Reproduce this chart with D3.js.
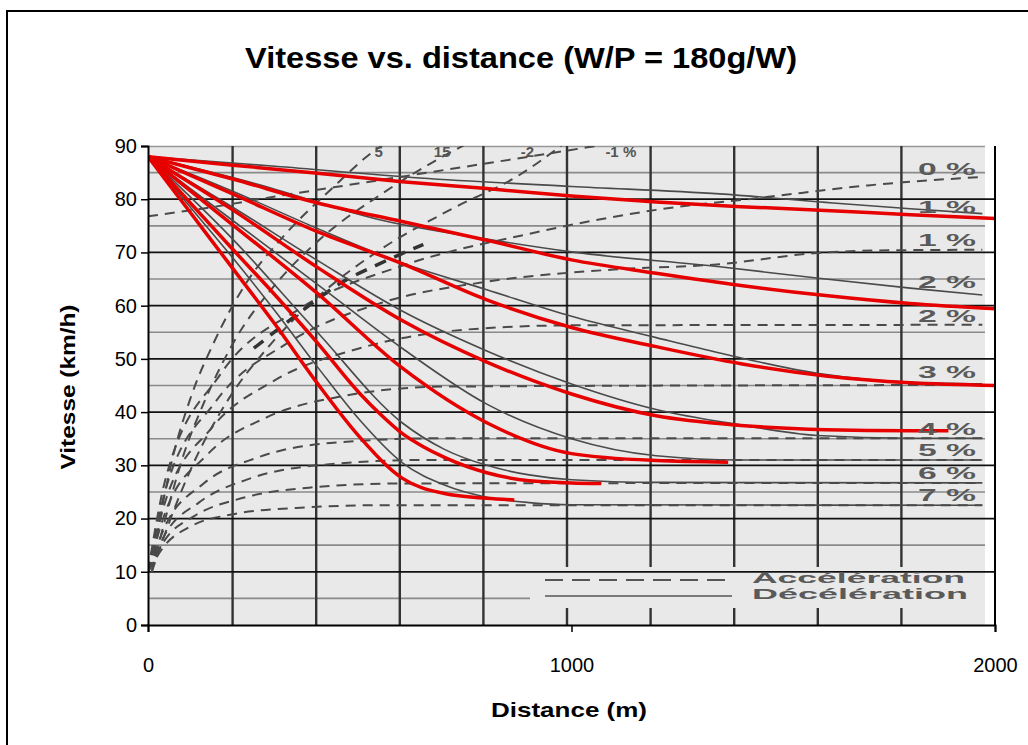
<!DOCTYPE html>
<html><head><meta charset="utf-8">
<script src="https://cdn.jsdelivr.net/npm/d3@7"></script>
<style>body{margin:0;background:#fff}svg{display:block}</style>
</head><body>
<svg id="c" width="1028" height="745"></svg>
<script>
// ---------- data ----------
const yTicks = [0,10,20,30,40,50,60,70,80,90];
const xTicks = [0,1000,2000];
const scanGridDist = [200,400,600,800,1000,1200,1400,1600,1800];
const halfSpeeds = [5,15,25,35,45,55,65,75,85];
const gradeLabels = ["0 %","1 %","1 %","2 %","2 %","3 %","4 %","5 %","6 %","7 %"];
const gradeLabelSpeed = [85.7,78.6,72.4,64.5,58.1,47.6,36.9,32.8,28.5,24.4];
const topLabels = ["5","15","-2","-1 %"];
const topLabelDist = [535,675,880,1080];
const legendLabels = ["Accélération","Décélération"];

// red curves: [distance m, speed km/h]
const red1 = [[0,88],[200,86.4],[400,84.9],[600,83.3],[800,82.0],[1000,80.6],[1200,79.5],[1400,78.6],[1600,77.9],[1800,77.1],[2000,76.4]];
const red2 = [[0,88],[200,83.8],[400,79.3],[600,75.8],[800,72.3],[1000,68.6],[1200,66.1],[1400,63.8],[1600,61.9],[1800,60.4],[2000,59.4]];
const red3 = [[0,88],[200,81.0],[400,73.9],[600,67.9],[800,61.1],[1000,55.9],[1200,52.3],[1400,49.1],[1600,46.8],[1800,45.5],[2000,45.0]];
const red4 = [[0,88],[200,78.0],[400,67.2],[600,57.2],[800,49.4],[1000,43.4],[1200,39.3],[1400,37.5],[1600,36.7],[1800,36.5],[1890,36.5]];
const red5 = [[0,88],[200,75.2],[400,62.3],[600,48.3],[800,38.0],[1000,32.2],[1200,30.9],[1370,30.6]];
const red6 = [[0,88],[100,79.3],[200,70.6],[300,62.0],[400,53.0],[500,43.5],[550,39.5],[600,36.0],[650,33.5],[700,31.5],[800,28.6],[900,27.1],[1000,26.7],[1070,26.6]];
const red7 = [[0,88],[100,77.5],[200,67.0],[300,56.5],[400,45.4],[500,35.3],[600,27.6],[700,24.7],[800,23.8],[865,23.5]];

// scanned deceleration curves (solid grey)
const dec1 = [[0,88],[300,86.2],[642,84.0],[1000,82.4],[1350,81.0],[1600,79.4],[1800,78.2],[1970,77.3]];
const dec2 = [[0,88],[250,83.0],[555,76.0],[800,72.5],[1000,70.1],[1350,67.3],[1600,65.0],[1800,63.3],[1970,62.0]];
const dec3 = [[0,88],[200,81.5],[400,74.5],[600,68.0],[800,63.0],[1000,58.0],[1200,54.0],[1350,51.1],[1580,47.3],[1800,45.6],[1970,45.3]];
const dec4 = [[0,88],[200,78.5],[400,68.5],[600,59.0],[800,51.5],[1000,45.3],[1200,40.5],[1400,37.6],[1580,35.6],[1800,35.1],[1970,35.1]];
const dec5 = [[0,88],[200,76.0],[400,64.0],[600,52.0],[800,41.5],[1000,35.0],[1200,31.8],[1400,31.0],[1970,31.0]];
const dec6 = [[0,88],[200,72.5],[400,55.0],[600,38.0],[700,33.0],[800,30.0],[900,28.2],[1000,27.3],[1200,26.8],[1970,26.7]];
const dec7 = [[0,88],[100,78.5],[200,69.0],[300,59.0],[400,48.5],[500,38.5],[600,30.5],[700,26.3],[800,24.0],[900,23.0],[1000,22.6],[1970,22.5]];

// scanned acceleration curves (dashed grey)
const acc0  = [[0,10],[40,27],[170,47],[360,59.5],[600,67.5],[900,73.5],[1200,78],[1460,80.4],[1700,82.6],[1970,84.2]];
const acc15 = [[0,10],[40,25],[160,42],[330,53],[550,60.5],[800,64.5],[1100,66.8],[1350,67.8],[1580,69.9],[1750,70.4],[1970,70.5]];
const acc25 = [[0,10],[40,23],[150,37],[300,46],[500,52],[750,55.5],[1000,56.3],[1970,56.4]];
const acc3  = [[0,10],[40,21],[140,32],[280,39],[460,43],[700,44.8],[1970,45.1]];
const acc4  = [[0,10],[40,18.5],[130,26.5],[260,31.5],[430,34.2],[700,35.1],[1970,35.1]];
const acc5  = [[0,10],[40,17],[120,23],[240,27.5],[400,30],[650,31],[1970,31]];
const acc6  = [[0,10],[40,16],[110,20.5],[220,23.8],[380,25.8],[600,26.6],[1970,26.7]];
const acc7  = [[0,10],[40,15],[100,18.5],[200,20.8],[350,22],[550,22.5],[1970,22.5]];
const accA1 = [[9,10],[28,19.7],[57,31],[99,42.3],[158,53.5],[229,63.9],[323,73.3],[430,81.7],[531,88.9],[560,90.5]];
const accA2 = [[9,10],[40,19.7],[80,31],[135,42.3],[205,53.5],[300,63.9],[418,73.3],[548,80.8],[682,87.4],[750,90.3]];
const accA3 = [[9,10],[52,19.7],[111,31],[189,42.3],[288,52.6],[406,62],[548,70.5],[713,78],[878,84.6],[980,90.3]];
const accM1 = [[0,76.8],[150,78.5],[300,80.5],[500,83],[700,85.5],[900,88],[1080,90.3]];
const accBold = [[250,52],[380,60],[450,64],[550,68],[650,71.5]];

// ---------- drawing ----------
const svg = d3.select('#c');
const x = d3.scaleLinear().domain([0,2000]).range([148,995]);
const y = d3.scaleLinear().domain([0,90]).range([625,146]);
const xs = d3.scaleLinear().domain([0,2000]).range([149,985]); // scanned grid

const FONT = "'Liberation Sans', Arial, sans-serif";

svg.append('rect').attr('x',7).attr('y',11).attr('width',1040).attr('height',760)
  .attr('fill','none').attr('stroke','#000').attr('stroke-width',2);

svg.append('defs').append('clipPath').attr('id','plot')
  .append('rect').attr('x',148).attr('y',146).attr('width',847).attr('height',479);

const scan = svg.append('g');
scan.append('rect').attr('x',xs(0)).attr('y',y(90)).attr('width',xs(2000)-xs(0)).attr('height',y(0)-y(90))
  .attr('fill','#e9e9e9');

// grey half lines
scan.selectAll('.hl').data(halfSpeeds).join('line')
  .attr('x1',xs(0)).attr('x2',d=> d===5 ? 530 : xs(2000))
  .attr('y1',d=>y(d)).attr('y2',d=>y(d))
  .attr('stroke','#8a8a8a').attr('stroke-width',1.6);
scan.append('line').attr('x1',xs(0)).attr('x2',xs(2000)).attr('y1',y(90)+0.5).attr('y2',y(90)+0.5)
  .attr('stroke','#999').attr('stroke-width',1.5);

// vertical scan lines
scanGridDist.forEach(d=>{
  const px = xs(d);
  if (px > 540) {
    scan.append('line').attr('x1',px).attr('x2',px).attr('y1',y(90)).attr('y2',567).attr('stroke','#333').attr('stroke-width',2.4);
    scan.append('line').attr('x1',px).attr('x2',px).attr('y1',608).attr('y2',y(0)).attr('stroke','#333').attr('stroke-width',2.4);
  } else {
    scan.append('line').attr('x1',px).attr('x2',px).attr('y1',y(90)).attr('y2',y(0)).attr('stroke','#333').attr('stroke-width',2.4);
  }
});

// black ten lines
svg.selectAll('.tl').data(yTicks.filter(v=>v>0 && v<90)).join('line')
  .attr('x1',148).attr('x2',995).attr('y1',d=>y(d)).attr('y2',d=>y(d))
  .attr('stroke','#111').attr('stroke-width',1.8);

// legend of the scan
svg.append('line').attr('x1',545).attr('x2',732).attr('y1',580).attr('y2',580)
  .attr('stroke','#555').attr('stroke-width',1.8).attr('stroke-dasharray','18,9');
svg.append('line').attr('x1',545).attr('x2',732).attr('y1',596).attr('y2',596)
  .attr('stroke','#555').attr('stroke-width',1.6);
svg.selectAll('.lg').data(legendLabels).join('text')
  .attr('x',752).attr('y',(d,i)=>583+i*16)
  .attr('textLength',(d,i)=> i===0 ? 213 : 216).attr('lengthAdjust','spacingAndGlyphs')
  .attr('font-family',FONT).attr('font-size',14.5).attr('font-weight','bold').attr('fill','#5a5a5a')
  .text(d=>d);

const line = d3.line().x(d=>x(d[0])).y(d=>y(d[1])).curve(d3.curveMonotoneX);
const curves = svg.append('g').attr('clip-path','url(#plot)');

const accAll = [acc0,acc15,acc25,acc3,acc4,acc5,acc6,acc7,accA1,accA2,accA3,accM1];
curves.selectAll('.acc').data(accAll).join('path')
  .attr('d',line).attr('fill','none').attr('stroke','#4a4a4a').attr('stroke-width',2)
  .attr('stroke-dasharray','10,7');
curves.append('path').attr('d',line(accBold)).attr('fill','none').attr('stroke','#333')
  .attr('stroke-width',3.5).attr('stroke-dasharray','12,9');

const decAll = [dec1,dec2,dec3,dec4,dec5,dec6,dec7];
curves.selectAll('.dec').data(decAll).join('path')
  .attr('d',line).attr('fill','none').attr('stroke','#4a4a4a').attr('stroke-width',1.6);

// grade labels
svg.selectAll('.gl').data(gradeLabels).join('text')
  .attr('x',918).attr('y',(d,i)=>y(gradeLabelSpeed[i])+6)
  .attr('textLength',58).attr('lengthAdjust','spacingAndGlyphs')
  .attr('font-family',FONT).attr('font-size',16).attr('font-weight','bold').attr('fill','#5a5a5a')
  .text(d=>d);

// top labels (cut by the plot edge)
curves.selectAll('.tlab').data(topLabels).join('text')
  .attr('x',(d,i)=>x(topLabelDist[i])).attr('y',157)
  .attr('font-family',FONT).attr('font-size',15).attr('font-weight','bold').attr('fill','#555')
  .text(d=>d);

// red curves
const redAll = [red1,red2,red3,red4,red5,red6,red7];
curves.selectAll('.red').data(redAll).join('path')
  .attr('d',line).attr('fill','none').attr('stroke','#e60000').attr('stroke-width',3.5)
  .attr('stroke-linejoin','round');

// axes
const ax = svg.append('g').attr('transform','translate(148,0)')
  .call(d3.axisLeft(y).tickValues(yTicks).tickSize(7).tickPadding(4).tickFormat(d3.format('d')));
ax.select('.domain').attr('stroke','#000').attr('stroke-width',2);
ax.selectAll('line').attr('stroke','#000').attr('stroke-width',1.5);
ax.selectAll('text').attr('font-family',FONT).attr('font-size',20).attr('fill','#000');

const bx = svg.append('g').attr('transform','translate(0,625)')
  .call(d3.axisBottom(x).tickValues(xTicks).tickSize(7).tickPadding(26).tickFormat(d3.format('d')));
bx.select('.domain').attr('stroke','#000').attr('stroke-width',2);
bx.selectAll('line').attr('stroke','#000').attr('stroke-width',1.5);
bx.selectAll('text').attr('font-family',FONT).attr('font-size',20).attr('fill','#000');

svg.append('line').attr('x1',995).attr('x2',995).attr('y1',146).attr('y2',625)
  .attr('stroke','#000').attr('stroke-width',2);

// titles
svg.append('text').attr('x',521).attr('y',68).attr('text-anchor','middle')
  .attr('textLength',552).attr('lengthAdjust','spacingAndGlyphs')
  .attr('font-family',FONT).attr('font-size',29).attr('font-weight','bold').text('Vitesse vs. distance (W/P = 180g/W)');
svg.append('text').attr('x',569).attr('y',717).attr('text-anchor','middle')
  .attr('textLength',156).attr('lengthAdjust','spacingAndGlyphs')
  .attr('font-family',FONT).attr('font-size',21).attr('font-weight','bold').text('Distance (m)');
svg.append('text').attr('transform','translate(75,387) rotate(-90)').attr('text-anchor','middle')
  .attr('textLength',165).attr('lengthAdjust','spacingAndGlyphs')
  .attr('font-family',FONT).attr('font-size',21).attr('font-weight','bold').text('Vitesse (km/h)');
</script>
</body></html>
